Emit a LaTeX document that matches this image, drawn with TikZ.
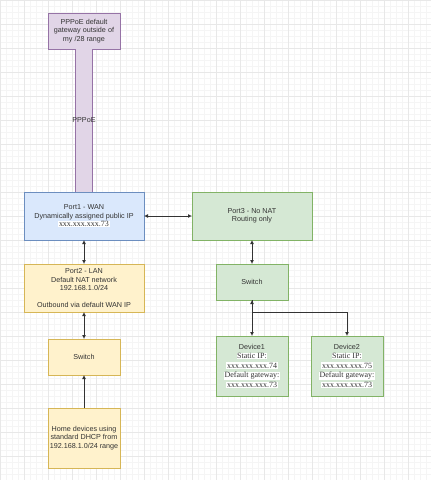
\documentclass[tikz,border=0pt]{standalone}
\usepackage{fontspec}
\setsansfont{Liberation Sans}
\newfontfamily\ipfont{Liberation Serif}
\usetikzlibrary{positioning,arrows.meta}
\definecolor{purplefill}{HTML}{E1D5E7}
\definecolor{purpledraw}{HTML}{9673A6}
\definecolor{bluefill}{HTML}{DAE8FC}
\definecolor{bluedraw}{HTML}{6C8EBF}
\definecolor{yellowfill}{HTML}{FFF2CC}
\definecolor{yellowdraw}{HTML}{D6B656}
\definecolor{greenfill}{HTML}{D5E8D4}
\definecolor{greendraw}{HTML}{82B366}
\newcommand{\iphl}[1]{{\setlength{\fboxsep}{0.6pt}\colorbox{white}{\ipfont\fontsize{8}{9.6}\selectfont #1}}}
\tikzset{
  box/.style={
    % The shape:
    rectangle,
    % The size:
    minimum width=72pt, minimum height=36pt,
    inner sep=0pt, outer sep=0pt,
    % The border:
    line width=0.8pt,
    % Font
    align=center, text=black!80,
    font=\sffamily\fontsize{7.2}{8.4}\selectfont
  },
  widebox/.style={box, minimum width=120pt, minimum height=48pt},
  tallbox/.style={box, minimum height=60pt},
  purplebox/.style={fill=purplefill, draw=purpledraw},
  bluebox/.style={fill=bluefill, draw=bluedraw},
  yellowbox/.style={fill=yellowfill, draw=yellowdraw},
  greenbox/.style={fill=greenfill, draw=greendraw},
  pipe/.style={draw=purpledraw, line width=0.8pt, double=purplefill, double distance=16.4pt}
}
\tikzstyle{line} = [draw, line width=0.8pt, black!80, -{Latex[length=4pt,width=4pt]}]
\tikzstyle{line2} = [line, {Latex[length=4pt,width=4pt]}-{Latex[length=4pt,width=4pt]}]
\begin{document}
\begin{tikzpicture}[x=1pt, y=1pt]
\useasboundingbox (0,0) rectangle (431,-480);
% grid
\draw[black!4, line width=0.5pt] (0,-480) grid[step=6pt] (431,0);
\draw[black!9, line width=0.8pt] (0,-480) grid[step=24pt] (431,0);
% left column
\node [box, purplebox] (gw) at (84,-31) {PPPoE default\\gateway outside of\\my /28 range};
\node [widebox, bluebox, below=143pt of gw] (wan) {Port1 - WAN\\Dynamically assigned public IP\\\iphl{xxx.xxx.xxx.73}};
\node [widebox, yellowbox, below=24pt of wan] (lan) {Port2 - LAN\\Default NAT network\\192.168.1.0/24\\[8.4pt]Outbound via default WAN IP};
\node [box, yellowbox, below=27pt of lan] (lanswitch) {Switch};
\node [tallbox, yellowbox, below=33pt of lanswitch] (home) {Home devices using\\standard DHCP from\\192.168.1.0/24 range};
% right column
\node [widebox, greenbox, right=48pt of wan] (nonat) {Port3 - No NAT\\Routing only};
\node [box, greenbox, below=24pt of nonat] (natswitch) {Switch};
\node [tallbox, greenbox, below=36pt of natswitch, font=\sffamily\fontsize{7.2}{9.6}\selectfont] (dev1) {Device1\\\iphl{Static IP:}\\\iphl{xxx.xxx.xxx.74}\\\iphl{Default gateway:}\\\iphl{xxx.xxx.xxx.73}};
\node [tallbox, greenbox, right=23pt of dev1, font=\sffamily\fontsize{7.2}{9.6}\selectfont] (dev2) {Device2\\\iphl{Static IP:}\\\iphl{xxx.xxx.xxx.75}\\\iphl{Default gateway:}\\\iphl{xxx.xxx.xxx.73}};
% Draw edges
\path [pipe] (gw) -- (wan) node [midway, box, minimum height=0pt] (pppoe) {PPPoE};
\path [line2] (wan) -- (nonat);
\path [line2] (wan) -- (lan);
\path [line2] (lan) -- (lanswitch);
\path [line] (home) -- (lanswitch);
\path [line2] (nonat) -- (natswitch);
\path [line2] (natswitch) -- (dev1);
\path [line] (natswitch.south) -- ++(0,-12) -| (dev2);
\end{tikzpicture}
\end{document}
